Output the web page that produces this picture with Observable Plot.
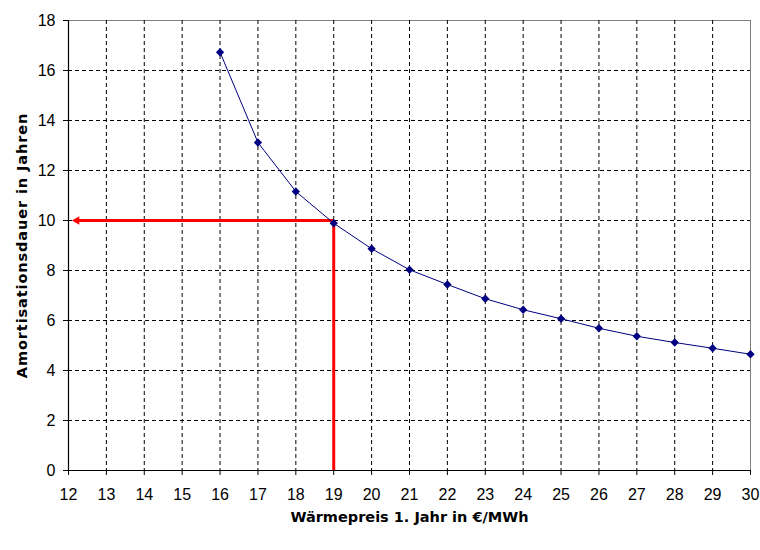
<!DOCTYPE html>
<html>
<head>
<meta charset="utf-8">
<script src="https://cdn.jsdelivr.net/npm/d3@7"></script>
<script src="https://cdn.jsdelivr.net/npm/@observablehq/plot@0.6"></script>
<style>
  body { margin: 0; background: #fff; }
  #chart svg { display: block; }
</style>
</head>
<body>
<div id="chart"></div>
<script>
// Wärmepreis im 1. Jahr (€/MWh) und daraus folgende Amortisationsdauer (Jahre)
const preis = [16, 17, 18, 19, 20, 21, 22, 23, 24, 25, 26, 27, 28, 29, 30];
const dauer = [16.73, 13.12, 11.16, 9.89, 8.87, 8.03, 7.44, 6.87, 6.43, 6.07, 5.69, 5.37, 5.12, 4.89, 4.65];

// Achsenteilung
const xTicks = [12, 13, 14, 15, 16, 17, 18, 19, 20, 21, 22, 23, 24, 25, 26, 27, 28, 29, 30];
const yTicks = [0, 2, 4, 6, 8, 10, 12, 14, 16, 18];
const xGrid = [13, 14, 15, 16, 17, 18, 19, 20, 21, 22, 23, 24, 25, 26, 27, 28, 29];
const yGrid = [2, 4, 6, 8, 10, 12, 14, 16];

// Ablesebeispiel: 10 Jahre Amortisation bei 19 €/MWh
const zielDauer = 10;
const zielPreis = 19;
const pfeilEnde = 12.22;

const yTitel = "Amortisationsdauer in Jahren";
const xTitel = "Wärmepreis 1. Jahr in €/MWh";

const daten = preis.map((p, i) => ({preis: p, dauer: dauer[i]}));

const font = "'Liberation Sans', Arial, sans-serif";
const titleFont = "'DejaVu Sans', Verdana, sans-serif";

const chart = Plot.plot({
  width: 760,
  height: 550,
  marginLeft: 68,
  marginRight: 10,
  marginTop: 20,
  marginBottom: 80,
  style: {fontFamily: font, fontSize: "16px", background: "#fff", color: "#000"},
  x: {domain: [12, 30], ticks: xTicks},
  y: {domain: [0, 18], ticks: yTicks},
  marks: [
    Plot.frame({stroke: "#808080", strokeWidth: 1}),
    Plot.ruleX(xGrid, {stroke: "#000", strokeDasharray: "4,3", strokeWidth: 1}),
    Plot.ruleY(yGrid, {stroke: "#000", strokeDasharray: "4,3", strokeWidth: 1}),
    Plot.ruleX([12], {stroke: "#000", strokeWidth: 1.2}),
    Plot.ruleY([0], {stroke: "#000", strokeWidth: 1.2}),
    Plot.axisX({ticks: xTicks, tickSize: 5, tickPadding: 13, label: null, fontSize: 16}),
    Plot.axisY({ticks: yTicks, tickSize: 5, tickPadding: 8, label: null, fontSize: 16}),
    // rote Ablesehilfe mit Pfeil zur y-Achse
    Plot.ruleX([zielPreis], {y1: 0, y2: zielDauer, stroke: "#ff0000", strokeWidth: 3}),
    Plot.ruleY([zielDauer], {x1: pfeilEnde, x2: zielPreis, stroke: "#ff0000", strokeWidth: 3}),
    Plot.dot([{x: pfeilEnde, y: zielDauer}], {
      x: "x", y: "y", symbol: "triangle", rotate: -90, r: 3.2, fill: "#ff0000", stroke: "none"
    }),
    Plot.line(daten, {x: "preis", y: "dauer", stroke: "#000080", strokeWidth: 1}),
    Plot.dot(daten, {x: "preis", y: "dauer", symbol: "square", rotate: 45, r: 3.3, fill: "#000080", stroke: "none"}),
    // Achsentitel
    Plot.text([yTitel], {
      frameAnchor: "left", dx: -46, rotate: -90, textAnchor: "middle", lineAnchor: "middle",
      fontFamily: titleFont, fontWeight: "bold", fontSize: 14.5, fill: "#000"
    }),
    Plot.text([xTitel], {
      frameAnchor: "bottom", dy: 47, textAnchor: "middle", lineAnchor: "middle",
      fontFamily: titleFont, fontWeight: "bold", fontSize: 14.5, fill: "#000"
    })
  ]
});

// etwas weitere Laufweite für den senkrechten Titel
d3.select(chart).selectAll("text")
  .filter(function() { return this.textContent === yTitel; })
  .attr("letter-spacing", "0.9px");

document.getElementById("chart").appendChild(chart);
</script>
</body>
</html>
